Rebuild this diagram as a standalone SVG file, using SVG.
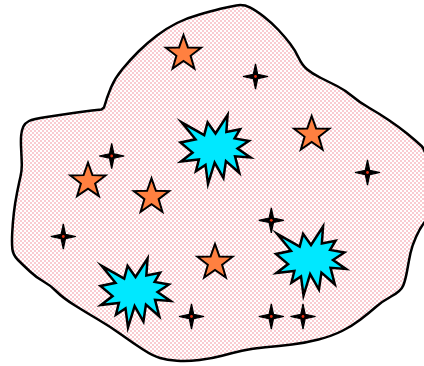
<svg xmlns="http://www.w3.org/2000/svg" width="424" height="366" viewBox="0 0 424 366">
<style>
.region{fill:url(#chk);stroke:#000;stroke-width:2.5;stroke-linejoin:round}
.burst{fill:#00e8ff;stroke:#000;stroke-width:2.5;stroke-linejoin:miter;stroke-miterlimit:10}
.star{fill:#ff8040;stroke:#000;stroke-width:2;stroke-linejoin:miter}
.spark{fill:#000;stroke:#000;stroke-width:1.2;stroke-linejoin:miter}
.sparkdot{fill:#e83010}
</style>
<defs>
<pattern id="chk" width="4" height="4" patternUnits="userSpaceOnUse">
<rect width="4" height="4" fill="#fff"/>
<rect width="2" height="2" fill="#f9ccd1"/>
<rect x="2" y="2" width="2" height="2" fill="#f9ccd1"/>
</pattern>
<path id="burstShape" d="M35,18.53 L47.06,0 L45.87,17.01 L59.56,14.24 L54.13,23.37 L68.37,25.99 L57.06,33.46 L70,42.45 L54.56,41.34 L58.8,57.8 L45.44,46.18 L42.93,63.05 L34.13,47.71 L27.5,69 L25,49.92 L15.43,56.28 L18.37,44.52 L0.44,46.6 L12.06,37.61 L0,27.52 L14.99,24.33 L1.2,7.33 L23.7,20.19 L27.07,7.33 Z"/>
<path id="starShape" d="M0,-18.5 L4.41,-6.07 L17.59,-5.72 L7.13,2.32 L10.87,14.97 L0,7.5 L-10.87,14.97 L-7.13,2.32 L-17.59,-5.72 L-4.41,-6.07 Z"/>
<g id="sparkShape">
<path class="spark" d="M0,-12.5 L2.2,-2.2 L12.5,0 L2.2,2.2 L0,12.5 L-2.2,2.2 L-12.5,0 L-2.2,-2.2 Z"/>
<circle class="sparkdot" r="1.4"/>
</g>
</defs>
<g id="region">
<path class="region" d="M236.35,5.4 Q243.7,4.3 249.85,7.4 Q256,10.5 264,16.75 Q272,23 278.5,30 Q285,37 290,43.5 Q295,50 298.5,57.5 Q302,65 307,69.25 Q312,73.5 320.5,77.75 Q329,82 337,86 Q345,90 352,96 Q359,102 369,107.75 Q379,113.5 389,120.25 Q399,127 407,133.5 Q415,140 421.5,146 Q428,152 429,183.5 Q430,215 425,221.5 Q420,228 416,237 Q412,246 410.5,253 Q409,260 407.25,270 Q405.5,280 403.25,285.5 Q401,291 391.5,296.25 Q382,301.5 375.5,307.25 Q369,313 360.5,319.5 Q352,326 342,331 Q332,336 318.5,339.5 Q305,343 292,344.5 Q279,346 265.5,347.25 Q252,348.5 242,350.75 Q232,353 222,355.75 Q212,358.5 199.5,360 Q187,361.5 177,360.75 Q167,360 160,358 Q153,356 143,349.5 Q133,343 121.5,334.75 Q110,326.5 98.5,319.75 Q87,313 75,305.5 Q63,298 56.5,291.5 Q50,285 43.5,281.5 Q37,278 30,271.5 Q23,265 18,260 Q13,255 12.35,249 Q11.7,243 12.2,233 Q12.7,223 13.850,213 Q15,203 17,193 Q19,183 20.5,176.5 Q22,170 21.75,163 Q21.5,156 21.1,148 Q20.7,140 21.2,135 Q21.7,130 23.35,126.5 Q25,123 29,121 Q33,119 46.5,117 Q60,115 71.5,113.25 Q83,111.5 92,110.5 L101.5,109.5 L104,107.5 Q107,97 111,87.5 Q115,78 122.5,69 Q130,60 138.5,51.5 Q147,43 157,35.5 Q167,28 177,23 Q187,18 199.5,14.5 Q212,11 220.5,8.75 Q229,6.5 236.35,5.4 Z"/>
</g>
<g id="burst1"><use href="#burstShape" class="burst" transform="translate(180.5,115)"/></g>
<g id="burst2"><use href="#burstShape" class="burst" transform="translate(100.5,258.5)"/></g>
<g id="burst3"><use href="#burstShape" class="burst" transform="translate(276,226.5)"/></g>
<g id="star1"><use href="#starShape" class="star" transform="translate(183.5,53.5)"/></g>
<g id="star2"><use href="#starShape" class="star" transform="translate(311.7,134.5)"/></g>
<g id="star3"><use href="#starShape" class="star" transform="translate(88,181.2)"/></g>
<g id="star4"><use href="#starShape" class="star" transform="translate(151.5,196.8)"/></g>
<g id="star5"><use href="#starShape" class="star" transform="translate(215,262.5)"/></g>
<g id="spark1"><use href="#sparkShape" transform="translate(255.5,76.5)"/></g>
<g id="spark2"><use href="#sparkShape" transform="translate(111.7,156)"/></g>
<g id="spark3"><use href="#sparkShape" transform="translate(367.5,172.5)"/></g>
<g id="spark4"><use href="#sparkShape" transform="translate(63.3,236.5)"/></g>
<g id="spark5"><use href="#sparkShape" transform="translate(271.3,220.3)"/></g>
<g id="spark6"><use href="#sparkShape" transform="translate(191.5,316.5)"/></g>
<g id="spark7"><use href="#sparkShape" transform="translate(271.3,316.5)"/></g>
<g id="spark8"><use href="#sparkShape" transform="translate(303,316.5)"/></g>
</svg>
